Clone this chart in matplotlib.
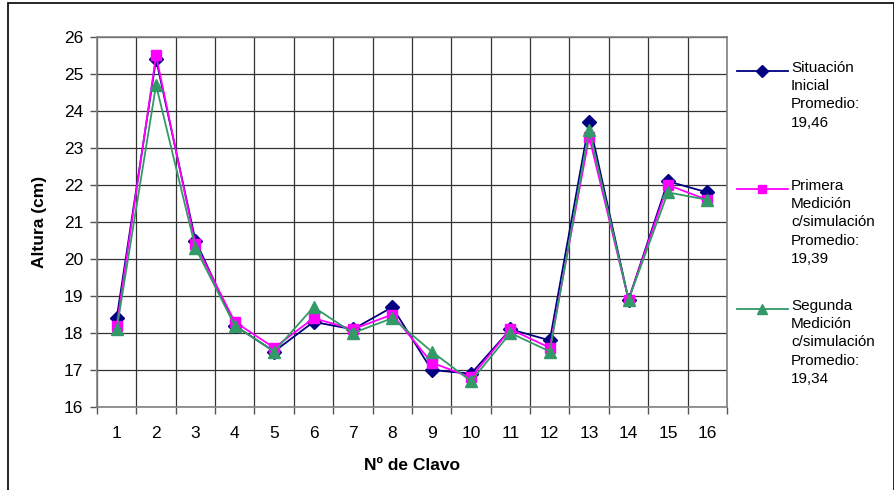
import matplotlib.pyplot as plt
from matplotlib.lines import Line2D
from matplotlib.patches import Rectangle

plt.rcParams['font.family'] = ['Liberation Sans', 'DejaVu Sans']

# data
clavos = list(range(1, 17))
situacion_inicial = [18.4, 25.4, 20.5, 18.2, 17.5, 18.3, 18.1, 18.7, 17.0, 16.9, 18.1, 17.8, 23.7, 18.9, 22.1, 21.8]
primera_medicion = [18.2, 25.5, 20.4, 18.3, 17.6, 18.4, 18.1, 18.5, 17.2, 16.8, 18.1, 17.6, 23.3, 18.9, 22.0, 21.6]
segunda_medicion = [18.1, 24.7, 20.3, 18.2, 17.5, 18.7, 18.0, 18.4, 17.5, 16.7, 18.0, 17.5, 23.5, 18.9, 21.8, 21.6]

labels = ["Situación\nInicial\nPromedio:\n19,46",
          "Primera\nMedición\nc/simulación\nPromedio:\n19,39",
          "Segunda\nMedición\nc/simulación\nPromedio:\n19,34"]
colors = ['#000080', '#FF00FF', '#339966']
markers = ['D', 's', '^']
msizes = [7, 7, 8]

W, H = 895, 490
fig = plt.figure(figsize=(W / 100, H / 100), dpi=100)
ax = fig.add_axes([97 / W, (H - 407) / H, 630 / W, 370 / H])

series = [situacion_inicial, primera_medicion, segunda_medicion]
for vals, c, m, ms in zip(series, colors, markers, msizes):
    ax.plot(clavos, vals, color=c, marker=m, markersize=ms, linewidth=1.3,
            markeredgecolor=c, zorder=3)

ax.set_xlim(0.5, 16.5)
ax.set_ylim(16, 26)
ax.set_yticks(range(16, 27))
ax.set_xticks([x + 0.5 for x in range(0, 17)])
ax.set_xticklabels([])
ax.set_xticks(clavos, minor=True)
ax.set_xticklabels([str(c) for c in clavos], minor=True)
ax.tick_params(axis='x', which='minor', length=0, pad=14, labelsize=12.5)
ax.tick_params(axis='x', which='major', length=5, width=1, color='#555555')
ax.tick_params(axis='y', length=5, width=1, color='#555555', pad=5, labelsize=12.5)
ax.grid(True, which='major', color='#333333', linewidth=0.9)
for s in ax.spines.values():
    s.set_color('#808080')
    s.set_linewidth(1.2)

ax.set_xlabel('Nº de Clavo', fontweight='bold', fontsize=12.5, labelpad=12)
ax.set_ylabel('Altura (cm)', fontweight='bold', fontsize=12.5, labelpad=12)

# legend outside the plot, drawn by hand
ys = [71, 189, 309]
for lab, c, m, ms, y in zip(labels, colors, markers, msizes, ys):
    fy = (H - y) / H
    fig.add_artist(Line2D([737 / W, 788 / W], [fy, fy], color=c, linewidth=1.3,
                          transform=fig.transFigure))
    fig.add_artist(Line2D([762 / W], [fy], color=c, marker=m, markersize=ms - 1,
                          transform=fig.transFigure))
    fig.text(791 / W, (H - y + 10) / H, lab, fontsize=11, va='top', ha='left',
             linespacing=1.38)

# outer frame
fig.add_artist(Rectangle((8 / W, -0.05), (894 - 8) / W, (H - 3) / H + 0.05,
                         transform=fig.transFigure, fill=False,
                         edgecolor='black', linewidth=1.2))

fig.savefig('out.png', dpi=100)
